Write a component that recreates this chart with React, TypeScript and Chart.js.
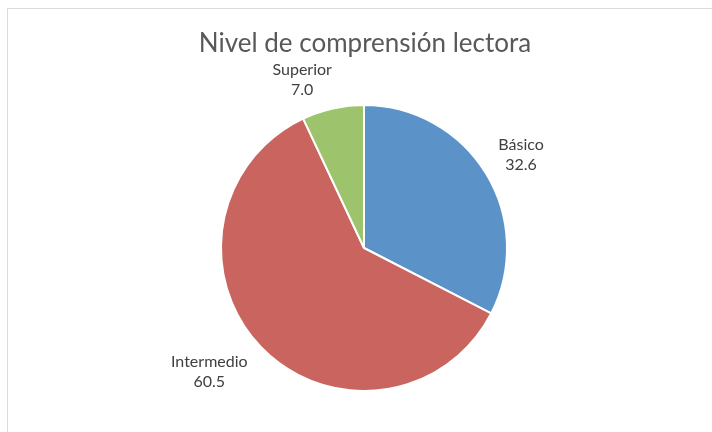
import React, { useEffect, useRef } from "react";
import { Chart, registerables } from "chart.js";

Chart.register(...registerables);

const TITLE = "Nivel de comprensión lectora";
const categories = ["Básico", "Intermedio", "Superior"];
const values = [32.6, 60.5, 7.0];
const colors = ["#5B93C9", "#C9645F", "#9DC46C"];
// layout nudges for the data labels (style only)
const LABEL_NUDGE: [number, number][] = [
  [7, -3],
  [-17, 4],
  [-22, 1],
];

const FONT = "Lato, 'Open Sans', sans-serif";

const labelPlugin = {
  id: "pieLabels",
  afterDraw(chart: any) {
    const ctx = chart.ctx;
    ctx.save();
    // title
    ctx.fillStyle = "#595959";
    ctx.font = `26px ${FONT}`;
    ctx.textAlign = "center";
    ctx.textBaseline = "middle";
    ctx.fillText(TITLE, 365, 44);

    const meta = chart.getDatasetMeta(0);
    ctx.font = `16px ${FONT}`;
    ctx.fillStyle = "#404040";
    meta.data.forEach((arc: any, i: number) => {
      const { x, y, startAngle, endAngle, outerRadius } = arc.getProps(
        ["x", "y", "startAngle", "endAngle", "outerRadius"],
        true
      );
      const mid = (startAngle + endAngle) / 2;
      const dx = Math.cos(mid);
      const dy = Math.sin(mid);
      const r = outerRadius + 10;
      const l1 = categories[i];
      const l2 = values[i].toFixed(1);
      const w = Math.max(ctx.measureText(l1).width, ctx.measureText(l2).width);
      const h = 40;
      const cx = x + r * dx + (dx * w) / 2 + LABEL_NUDGE[i][0];
      const cy = y + r * dy + (dy * h) / 2 + LABEL_NUDGE[i][1];
      ctx.fillText(l1, cx, cy - 10);
      ctx.fillText(l2, cx, cy + 10);
    });
    ctx.restore();
  },
};

export default function App() {
  const ref = useRef<HTMLCanvasElement>(null);
  useEffect(() => {
    if (!ref.current) return;
    const chart = new Chart(ref.current, {
      type: "pie",
      data: {
        labels: categories,
        datasets: [
          {
            data: values,
            backgroundColor: colors,
            borderColor: "#ffffff",
            borderWidth: 2,
          },
        ],
      },
      options: {
        animation: false,
        responsive: false,
        layout: { padding: { left: 220, right: 204, top: 104, bottom: 40 } },
        plugins: {
          legend: { display: false },
          tooltip: { enabled: false },
          title: { display: false },
        },
      },
      plugins: [labelPlugin],
    });
    return () => chart.destroy();
  }, []);
  return (
    <div
      style={{
        position: "absolute",
        left: 0,
        top: 0,
        width: 712,
        height: 432,
        background: "#ffffff",
      }}
    >
      <div
        style={{
          position: "absolute",
          left: 7,
          top: 8,
          width: 705,
          height: 424,
          borderLeft: "1px solid #dcdcdc",
          borderTop: "1px solid #dcdcdc",
          boxSizing: "border-box",
        }}
      />
      <canvas
        ref={ref}
        width={712}
        height={432}
        style={{ position: "absolute", left: 0, top: 0 }}
      />
    </div>
  );
}
